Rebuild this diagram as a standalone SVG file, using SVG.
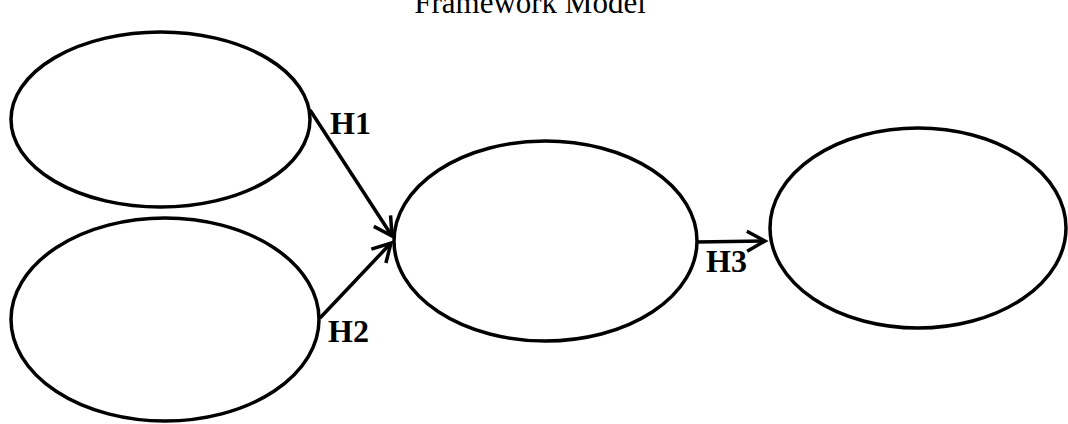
<svg xmlns="http://www.w3.org/2000/svg" width="1068" height="424" viewBox="0 0 1068 424">
  <style>
    .node { fill: #ffffff; stroke: #000000; stroke-width: 3.5; }
    .edge { fill: none; stroke: #000000; stroke-width: 3.5; }
    .title { font-family: "Liberation Serif", "Times New Roman", serif; font-size: 31px; fill: #000000; }
    .label { font-family: "Liberation Serif", "Times New Roman", serif; font-size: 32px; font-weight: bold; fill: #000000; }
  </style>
  <defs>
    <marker id="open-arrow" markerUnits="userSpaceOnUse" viewBox="-22 -14 26 28" markerWidth="26" markerHeight="28" refX="0" refY="0" orient="auto">
      <path d="M-18,-10 L0,0 L-18,10" fill="none" stroke="#000000" stroke-width="3.5" stroke-linejoin="miter"/>
    </marker>
  </defs>

  <rect width="1068" height="424" fill="#ffffff"/>

  <text class="title" x="530" y="13" text-anchor="middle">Framework Model</text>

  <g id="node-top-left">
    <ellipse class="node" cx="160.5" cy="119.5" rx="149.5" ry="87.5"/>
  </g>
  <g id="node-bottom-left">
    <ellipse class="node" cx="165" cy="319.5" rx="154" ry="101.5"/>
  </g>
  <g id="node-middle">
    <ellipse class="node" cx="545.5" cy="241" rx="151.5" ry="100"/>
  </g>
  <g id="node-right">
    <ellipse class="node" cx="918" cy="228" rx="148" ry="100"/>
  </g>

  <g id="connectors">
    <line class="edge" x1="310" y1="110" x2="392" y2="236" marker-end="url(#open-arrow)"/>
    <line class="edge" x1="320" y1="318" x2="391" y2="243" marker-end="url(#open-arrow)"/>
    <line class="edge" x1="696" y1="242" x2="765" y2="241" marker-end="url(#open-arrow)"/>
    <text class="label" x="330" y="134">H1</text>
    <text class="label" x="328" y="342">H2</text>
    <text class="label" x="706" y="272">H3</text>
  </g>
</svg>
